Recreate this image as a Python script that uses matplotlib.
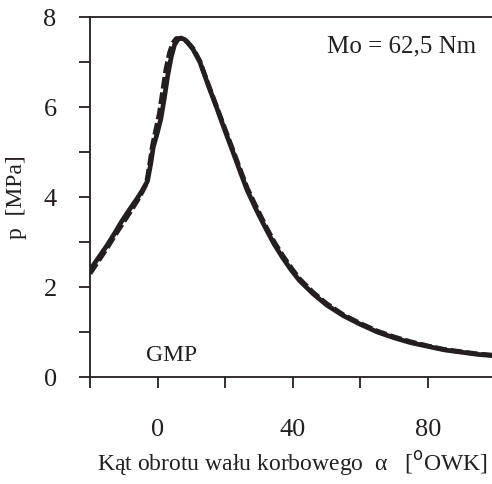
import matplotlib
matplotlib.use("Agg")
import matplotlib.pyplot as plt
from matplotlib.ticker import FixedLocator

# Data
alpha_solid = [-20, -17.5, -15, -12.5, -10.7, -8.5, -6.2, -4.5, -3, -2, -1.3, 0, 1, 2, 3, 4, 5, 6, 7, 8, 9, 10.5, 12.5, 15, 17.5, 20, 22.4, 24.5, 26.5, 29.3, 32, 34.5, 37, 39.5, 42, 46, 50, 55, 60, 65, 70, 75, 80, 85, 90, 95, 100]
p_solid = [2.38, 2.65, 2.92, 3.22, 3.45, 3.7, 3.95, 4.15, 4.35, 4.75, 5.1, 5.45, 5.75, 6.2, 6.7, 7.1, 7.38, 7.5, 7.53, 7.5, 7.42, 7.28, 7.0, 6.48, 5.98, 5.46, 4.98, 4.55, 4.15, 3.7, 3.3, 2.95, 2.65, 2.38, 2.14, 1.85, 1.6, 1.36, 1.17, 1.0, 0.87, 0.76, 0.68, 0.6, 0.55, 0.5, 0.47]

alpha_dash = [-20, -17.5, -15, -12.5, -10, -8, -6, -4.5, -3.3, -2.3, -1.5, -0.5, 0.5, 1.5, 2.5, 3.5, 4.5, 5.5, 7, 8, 9, 10.5, 12.5, 15, 17.5, 20, 22.4, 24.5, 26.5, 29.3, 32, 34.5, 37, 39.5, 42, 46, 50, 55, 60, 65, 70, 75, 80, 85, 90, 95, 100]
p_dash = [2.3, 2.58, 2.86, 3.16, 3.45, 3.68, 3.92, 4.12, 4.3, 4.75, 5.15, 5.5, 5.85, 6.35, 6.85, 7.2, 7.42, 7.52, 7.53, 7.5, 7.43, 7.3, 7.02, 6.5, 6.0, 5.5, 5.02, 4.6, 4.2, 3.76, 3.35, 3.0, 2.7, 2.43, 2.18, 1.88, 1.63, 1.38, 1.19, 1.02, 0.89, 0.78, 0.69, 0.61, 0.56, 0.51, 0.48]

xticks_major = [-20, 0, 20, 40, 60, 80, 100]
xtick_labels = ["", "0", "", "40", "", "80", ""]
yticks = [0, 1, 2, 3, 4, 5, 6, 7, 8]
ytick_labels = ["0", "", "2", "", "4", "", "6", "", "8"]

plt.rcParams['font.family'] = ['Liberation Serif', 'DejaVu Serif']

fig = plt.figure(figsize=(4.92, 4.84), dpi=100)
ax = fig.add_axes([90/492, 1-377/484, 405.6/492, 360/484])

ax.plot(alpha_dash, p_dash, color='#231f20', lw=3.4, linestyle=(0, (2.5, 0.8)))
ax.plot(alpha_solid, p_solid, color='#231f20', lw=3.4, solid_joinstyle='round')

ax.set_xlim(-20, 100)
ax.set_ylim(0, 8)

ax.xaxis.set_major_locator(FixedLocator(xticks_major))
ax.set_xticklabels(xtick_labels)
ax.yaxis.set_major_locator(FixedLocator(yticks))
ax.set_yticklabels(ytick_labels)

ax.tick_params(axis='x', direction='out', length=8, width=1.3, pad=22, labelsize=19, colors='#231f20')
ax.tick_params(axis='y', direction='out', length=8, width=1.3, pad=16, labelsize=19, colors='#231f20')

for s in ['left', 'bottom', 'top']:
    ax.spines[s].set_linewidth(1.3)
    ax.spines[s].set_color('#231f20')
ax.spines['right'].set_visible(False)

ax.set_xlabel("Kąt obrotu wału korbowego  α   [$^{\\rm o}$OWK]", fontsize=17, color='#231f20', labelpad=6)
ax.set_ylabel("p  [MPa]", fontsize=17, color='#231f20', labelpad=12)

ax.text(0.585, 0.918, "Mo = 62,5 Nm", transform=ax.transAxes, fontsize=18, color='#231f20', va='center', ha='left')
ax.text(-3.5, 0.48, "GMP", fontsize=17, color='#231f20', va='center', ha='left')

fig.savefig("out.png", dpi=100)
